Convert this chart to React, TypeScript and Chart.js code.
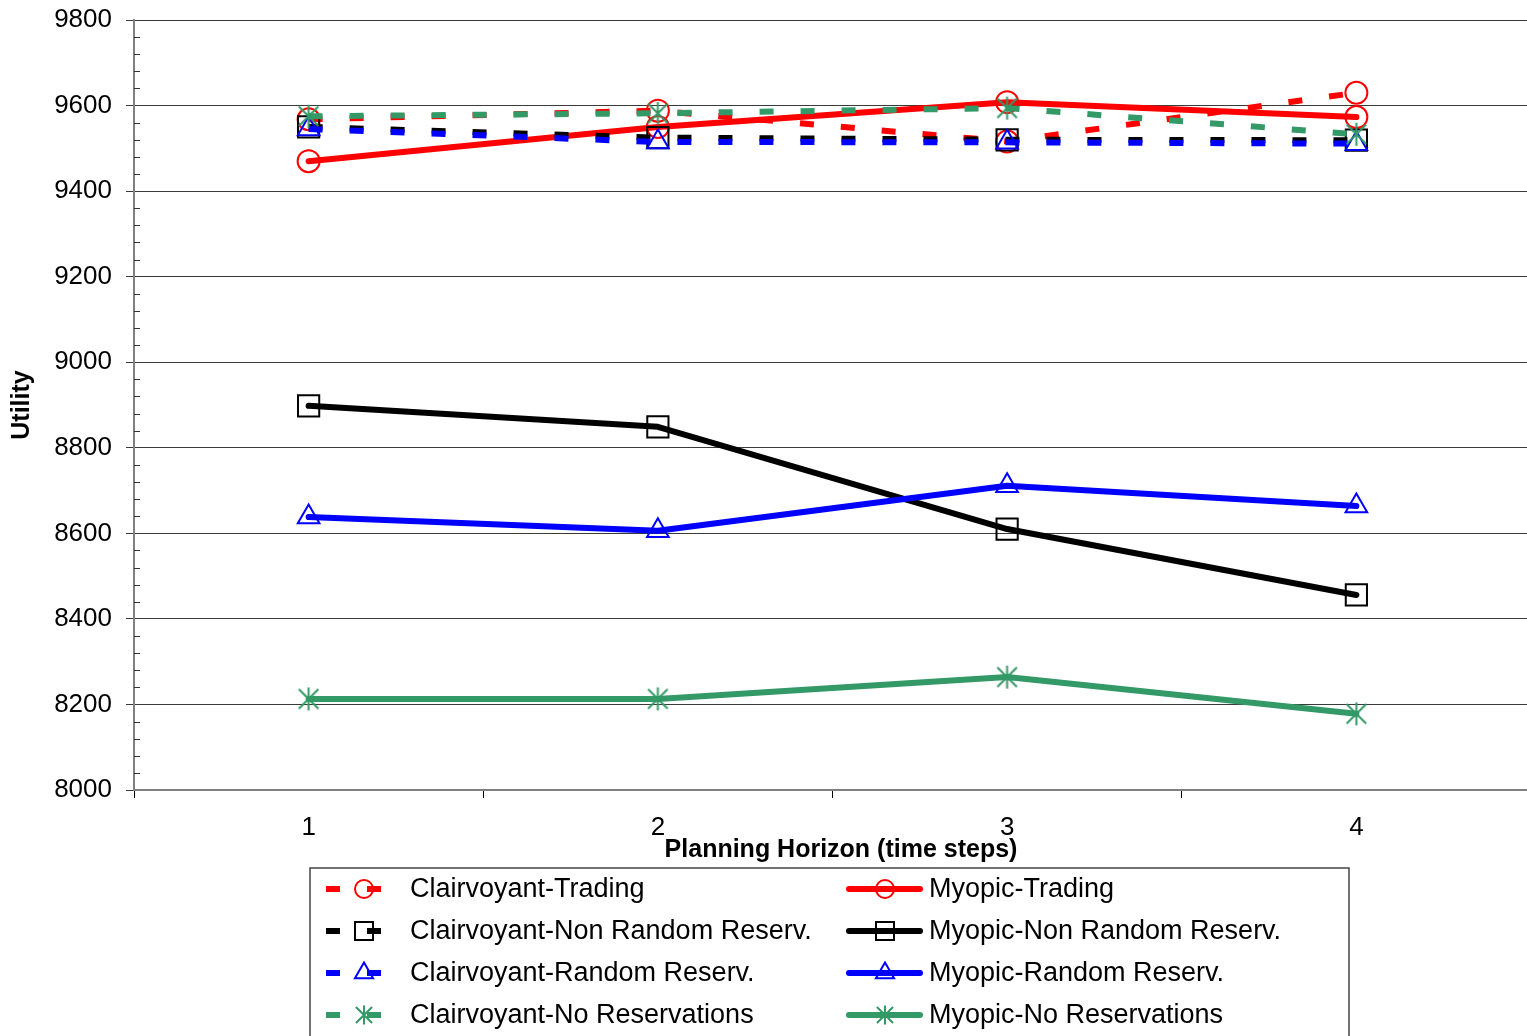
import React, { useEffect, useRef } from 'react';
import { Chart, registerables } from 'chart.js';

Chart.register(...registerables);

const categories = ['1', '2', '3', '4'];
const clairvoyantTrading = [9568, 9588, 9516, 9630];
const myopicTrading = [9470, 9550, 9608, 9573];
const clairvoyantNonRandom = [9550, 9525, 9520, 9519];
const myopicNonRandom = [8898, 8849, 8610, 8456];
const clairvoyantRandom = [9545, 9515, 9514, 9511];
const myopicRandom = [8638, 8606, 8711, 8664];
const clairvoyantNoRes = [9575, 9582, 9594, 9533];
const myopicNoRes = [8213, 8213, 8264, 8178];

const yMin = 8000;
const yMax = 9800;
const yStep = 200;
const yMinorStep = 40;

const xTitle = 'Planning Horizon (time steps)';
const yTitle = 'Utility';

const RED = '#FF0000';
const BLACK = '#000000';
const BLUE = '#0000FF';
const GREEN = '#339966';
const FONT = "'Liberation Sans', Arial, sans-serif";

type Marker = 'circle' | 'rect' | 'triangle' | 'star';

const seriesDefs: { label: string; data: number[]; color: string; marker: Marker; dashed: boolean }[] = [
  { label: 'Clairvoyant-Trading', data: clairvoyantTrading, color: RED, marker: 'circle', dashed: true },
  { label: 'Myopic-Trading', data: myopicTrading, color: RED, marker: 'circle', dashed: false },
  { label: 'Clairvoyant-Non Random Reserv.', data: clairvoyantNonRandom, color: BLACK, marker: 'rect', dashed: true },
  { label: 'Myopic-Non Random Reserv.', data: myopicNonRandom, color: BLACK, marker: 'rect', dashed: false },
  { label: 'Clairvoyant-Random Reserv.', data: clairvoyantRandom, color: BLUE, marker: 'triangle', dashed: true },
  { label: 'Myopic-Random Reserv.', data: myopicRandom, color: BLUE, marker: 'triangle', dashed: false },
  { label: 'Clairvoyant-No Reservations', data: clairvoyantNoRes, color: GREEN, marker: 'star', dashed: true },
  { label: 'Myopic-No Reservations', data: myopicNoRes, color: GREEN, marker: 'star', dashed: false },
];

function drawAsterisk(ctx: CanvasRenderingContext2D, cx: number, cy: number, r: number, color: string, lw: number) {
  ctx.save();
  ctx.strokeStyle = color;
  ctx.lineWidth = lw;
  ctx.setLineDash([]);
  ctx.beginPath();
  ctx.moveTo(cx, cy - r);
  ctx.lineTo(cx, cy + r);
  const d = r * 0.85;
  ctx.moveTo(cx - d, cy - d);
  ctx.lineTo(cx + d, cy + d);
  ctx.moveTo(cx + d, cy - d);
  ctx.lineTo(cx - d, cy + d);
  ctx.stroke();
  ctx.restore();
}

function makeAsterisk(color: string, r: number): HTMLCanvasElement {
  const size = Math.ceil(r * 2 + 4);
  const c = document.createElement('canvas');
  c.width = size;
  c.height = size;
  const ctx = c.getContext('2d')!;
  drawAsterisk(ctx, size / 2, size / 2, r, color, 2);
  return c;
}

function drawMarker(ctx: CanvasRenderingContext2D, m: Marker, x: number, y: number, color: string, scale: number) {
  ctx.save();
  ctx.setLineDash([]);
  ctx.strokeStyle = color;
  ctx.lineWidth = 2;
  ctx.beginPath();
  if (m === 'circle') {
    ctx.arc(x, y, 9 * scale, 0, Math.PI * 2);
    ctx.stroke();
  } else if (m === 'rect') {
    const s = 9 * scale;
    ctx.rect(x - s, y - s, 2 * s, 2 * s);
    ctx.stroke();
  } else if (m === 'triangle') {
    const r = 10.5 * scale;
    ctx.moveTo(x, y - r);
    ctx.lineTo(x + r * Math.sin(Math.PI / 3), y + r / 2);
    ctx.lineTo(x - r * Math.sin(Math.PI / 3), y + r / 2);
    ctx.closePath();
    ctx.stroke();
  } else {
    drawAsterisk(ctx, x, y, 9.5 * scale, color, 2);
  }
  ctx.restore();
}

const extrasPlugin = {
  id: 'extras',
  afterDraw(chart: any) {
    const ctx: CanvasRenderingContext2D = chart.ctx;
    const yScale = chart.scales.y;
    const area = chart.chartArea;
    ctx.save();
    // minor ticks on y axis
    ctx.strokeStyle = '#333';
    ctx.lineWidth = 1;
    for (let v = yMin; v <= yMax; v += yMinorStep) {
      if (v % yStep === 0) continue;
      const y = Math.round(yScale.getPixelForValue(v)) + 0.5;
      ctx.beginPath();
      ctx.moveTo(area.left, y);
      ctx.lineTo(area.left + 6, y);
      ctx.stroke();
    }
    // x axis title
    ctx.fillStyle = '#000';
    ctx.font = `bold 25px ${FONT}`;
    ctx.textAlign = 'center';
    ctx.textBaseline = 'middle';
    ctx.fillText(xTitle, 841, 850);

    // legend
    ctx.strokeStyle = '#444';
    ctx.lineWidth = 1.5;
    ctx.strokeRect(310, 868, 1039, 200);
    const rows = [889, 931, 973, 1015];
    ctx.font = `27px ${FONT}`;
    ctx.textAlign = 'left';
    ctx.textBaseline = 'middle';
    seriesDefs.forEach((s, i) => {
      const row = rows[Math.floor(i / 2)];
      const left = i % 2 === 0;
      ctx.save();
      ctx.strokeStyle = s.color;
      ctx.lineWidth = 6;
      if (left) {
        ctx.setLineDash([14, 27]);
        ctx.lineCap = 'butt';
        ctx.beginPath();
        ctx.moveTo(326, row);
        ctx.lineTo(382, row);
        ctx.stroke();
      } else {
        ctx.setLineDash([]);
        ctx.lineCap = 'round';
        ctx.beginPath();
        ctx.moveTo(849, row);
        ctx.lineTo(920, row);
        ctx.stroke();
      }
      ctx.restore();
      drawMarker(ctx, s.marker, left ? 364 : 885, row, s.color, 1);
      ctx.fillStyle = '#000';
      ctx.fillText(s.label, left ? 410 : 929, row + 1);
    });
    ctx.restore();
  },
};

export default function App() {
  const canvasRef = useRef<HTMLCanvasElement | null>(null);

  useEffect(() => {
    const canvas = canvasRef.current;
    if (!canvas) return;
    const datasets = seriesDefs.map((s, i) => {
      const base: any = {
        label: s.label,
        data: s.data,
        borderColor: s.color,
        backgroundColor: s.color,
        borderWidth: 6,
        borderDash: s.dashed ? [14, 27] : [],
        borderCapStyle: s.dashed ? 'butt' : 'round',
        borderJoinStyle: 'round',
        tension: 0,
        fill: false,
        pointBorderColor: s.color,
        pointBackgroundColor: 'rgba(0,0,0,0)',
        pointBorderWidth: 2,
        pointHoverRadius: 0,
        order: seriesDefs.length - i,
      };
      if (s.marker === 'circle') {
        base.pointStyle = 'circle';
        base.pointRadius = 11;
      } else if (s.marker === 'rect') {
        base.pointStyle = 'rect';
        base.pointRadius = 15;
      } else if (s.marker === 'triangle') {
        base.pointStyle = 'triangle';
        base.pointRadius = 12.5;
      } else {
        base.pointStyle = makeAsterisk(s.color, 11.5);
        base.pointRadius = 12;
      }
      return base;
    });

    const chart = new Chart(canvas, {
      type: 'line',
      data: { labels: categories, datasets },
      plugins: [extrasPlugin],
      options: {
        responsive: false,
        animation: false,
        devicePixelRatio: 1,
        layout: { autoPadding: false, padding: { top: 20, left: 0, right: 0, bottom: 0 } },
        plugins: {
          legend: { display: false },
          tooltip: { enabled: false },
          title: { display: false },
        },
        scales: {
          x: {
            type: 'category',
            offset: true,
            grid: {
              display: true,
              offset: true,
              drawOnChartArea: false,
              drawTicks: true,
              tickLength: 8,
              color: '#000',
              lineWidth: 1,
            },
            border: { display: true, color: '#808080', width: 2 },
            ticks: {
              color: '#000',
              font: { family: FONT, size: 26 },
              padding: 14,
              maxRotation: 0,
            },
            afterFit: (scale: any) => {
              scale.height = 246;
              scale.paddingLeft = 0;
              scale.paddingRight = 0;
            },
          },
          y: {
            type: 'linear',
            min: yMin,
            max: yMax,
            grid: {
              display: true,
              color: '#3a3a3a',
              lineWidth: 1,
              tickLength: 8,
              drawTicks: true,
            },
            border: { display: true, color: '#808080', width: 2 },
            ticks: {
              stepSize: yStep,
              color: '#000',
              font: { family: FONT, size: 26 },
              padding: 14,
              callback: (v: any) => String(v),
            },
            title: {
              display: true,
              text: yTitle,
              color: '#000',
              font: { family: FONT, size: 25, weight: 'bold' },
              padding: { top: 7, bottom: 0 },
            },
            afterFit: (scale: any) => {
              scale.width = 134;
              scale.paddingTop = 0;
              scale.paddingBottom = 0;
            },
          },
        },
      } as any,
    });
    return () => chart.destroy();
  }, []);

  return (
    <div style={{ position: 'absolute', left: 0, top: 0, width: 1527, height: 1036, overflow: 'hidden', background: '#fff' }}>
      <canvas ref={canvasRef} width={1531} height={1036} style={{ display: 'block' }} />
    </div>
  );
}
